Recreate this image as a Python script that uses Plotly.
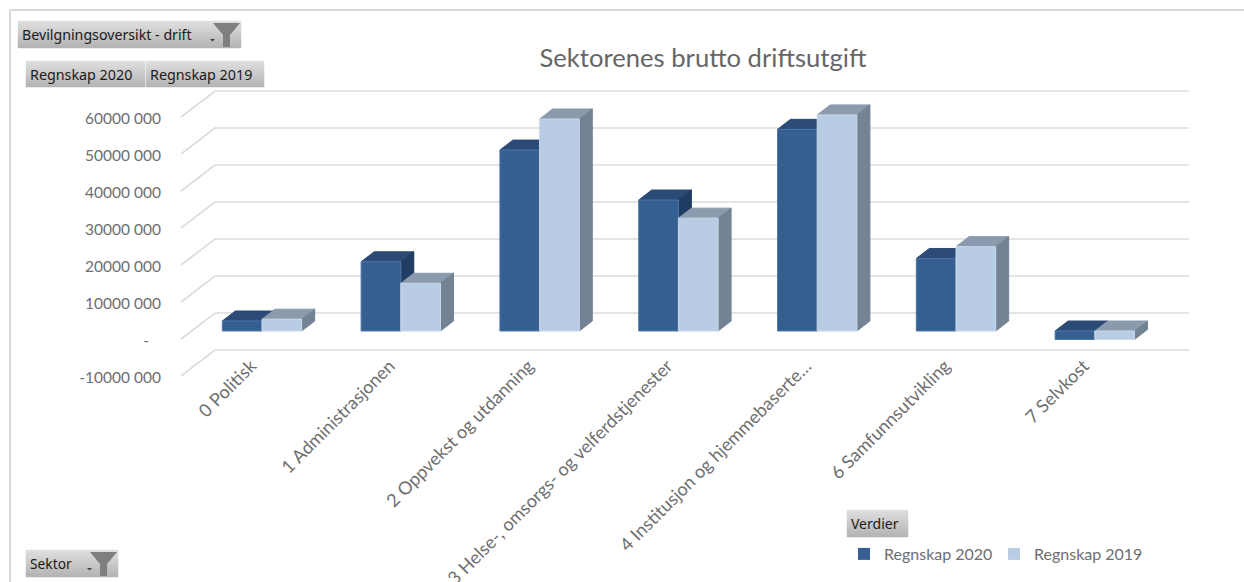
import plotly.graph_objects as go

W, H = 1244, 582

# ---- data ----
categories = ["0 Politisk", "1 Administrasjonen", "2 Oppvekst og utdanning",
              "3 Helse-, omsorgs- og velferdstjenester",
              "4 Institusjon og hjemmebaserte…", "6 Samfunnsutvikling", "7 Selvkost"]
regnskap_2020 = [2_700_000, 18_700_000, 48_900_000, 35_400_000, 54_500_000, 19_600_000, -2_300_000]
regnskap_2019 = [3_200_000, 12_900_000, 57_300_000, 30_500_000, 58_400_000, 22_800_000, -2_300_000]
grid_values = [-10_000_000, 0, 10_000_000, 20_000_000, 30_000_000, 40_000_000, 50_000_000, 60_000_000]
tick_labels = ["-10000 000", "-\u00a0\u00a0\u00a0", "10000 000", "20000 000", "30000 000",
               "40000 000", "50000 000", "60000 000"]
series_names = ["Regnskap 2020", "Regnskap 2019"]

# ---- projection of the pseudo-3D scene (category units / value units) ----
PX_PER_CAT = 138.8
PX_PER_VAL = 3.7e-6
CAT0_PX = 262.0          # pixel of category 0
ZERO_PX = 339.0          # pixel of value 0 on the front plane
BAR_W = 39.7 / PX_PER_CAT
BAR_DX = 13.0 / PX_PER_CAT
BAR_DY = 10.0 / PX_PER_VAL
BAR_FRONT_DY = 8.0 / PX_PER_VAL     # bars stand a bit behind the front plane
WALL_DX = 34.0 / PX_PER_CAT
WALL_DY = 26.0 / PX_PER_VAL
GRID_X0 = (181.0 - CAT0_PX) / PX_PER_CAT
GRID_X1 = (1189.0 - CAT0_PX) / PX_PER_CAT
LABEL_SHIFT = -11.0 / PX_PER_CAT
YLABEL_SHIFT = -1.5 / PX_PER_VAL

PLOT_L, PLOT_R, PLOT_T, PLOT_B = 162, 1210, 60, 400


def px(x):
    return x / W


def py(y):
    return 1 - y / H


# ---- gridlines (floor edge + back wall) ----
gx, gy = [], []
for v in grid_values:
    gx += [GRID_X0, GRID_X0 + WALL_DX, GRID_X1, None]
    gy += [v, v + WALL_DY, v + WALL_DY, None]

fig = go.Figure()
fig.add_trace(go.Scatter(x=gx, y=gy, mode="lines", line=dict(color="#dcdcdc", width=1.6),
                         hoverinfo="skip", showlegend=False))


def faces(values, offset):
    fx, fy, tx, ty, sx, sy = [], [], [], [], [], []
    for i, v in enumerate(values):
        x0 = i + offset * BAR_W
        x1 = x0 + BAR_W
        top = max(v, 0) + BAR_FRONT_DY
        bot = min(v, 0) + BAR_FRONT_DY
        fx += [x0, x1, x1, x0, x0, None]
        fy += [bot, bot, top, top, bot, None]
        tx += [x0, x1, x1 + BAR_DX, x0 + BAR_DX, x0, None]
        ty += [top, top, top + BAR_DY, top + BAR_DY, top, None]
        sx += [x1, x1 + BAR_DX, x1 + BAR_DX, x1, x1, None]
        sy += [bot, bot + BAR_DY, top + BAR_DY, top, bot, None]
    return (fx, fy), (tx, ty), (sx, sy)


styles = [
    dict(front="#355f91", line="#4f78a8", top="#2b4a75", side="#1f3d63"),
    dict(front="#b8cce4", line="#c9d8ea", top="#8c9aad", side="#748393"),
]
for values, offset, st in zip([regnskap_2020, regnskap_2019], [-1, 0], styles):
    f, t, s = faces(values, offset)
    for (xs, ys), col, lc in [(t, st["top"], st["top"]), (s, st["side"], st["side"]), (f, st["front"], st["line"])]:
        fig.add_trace(go.Scatter(x=xs, y=ys, mode="lines", fill="toself", fillcolor=col,
                                 line=dict(color=lc, width=1), hoverinfo="skip", showlegend=False))

# legend entries
for name, st in zip(series_names, styles):
    fig.add_trace(go.Bar(x=[None], y=[None], name=name, marker=dict(color=st["front"], line=dict(width=0))))

shapes = []
annotations = []


def button(x0, y0, x1, y1, label, font_size=14.3):
    n = y1 - y0
    for k in range(n):
        t = k / (n - 1)
        c = int(224 - t * 44)
        shapes.append(dict(type="rect", xref="paper", yref="paper", x0=px(x0), x1=px(x1),
                           y0=py(y0 + k), y1=py(y0 + k + 1), fillcolor=f"rgb({c},{c},{c})",
                           line=dict(color=f"rgb({c},{c},{c})", width=0.5), layer="above"))
    annotations.append(dict(text=label, xref="paper", yref="paper", x=px(x0 + 2), y=py((y0 + y1) / 2),
                            xanchor="left", yanchor="middle", showarrow=False,
                            font=dict(family="Noto Sans", size=font_size, color="#1a1a1a")))


def funnel(x0, y0):
    pts = [(x0, y0), (x0 + 27, y0), (x0 + 17, y0 + 12), (x0 + 17, y0 + 24), (x0 + 10, y0 + 24), (x0 + 10, y0 + 12)]
    path = "M " + " L ".join(f"{px(a)},{py(b)}" for a, b in pts) + " Z"
    shapes.append(dict(type="path", xref="paper", yref="paper", path=path, fillcolor="#7f7f7f",
                       line=dict(width=0), layer="above"))
    ax, ay = x0 - 3, y0 + 16
    path = f"M {px(ax)},{py(ay)} L {px(ax + 5)},{py(ay)} L {px(ax + 2.5)},{py(ay + 2.5)} Z"
    shapes.append(dict(type="path", xref="paper", yref="paper", path=path, fillcolor="#404040",
                       line=dict(width=0), layer="above"))


button(18, 21, 241, 48, "Bevilgningsoversikt - drift", 14.2)
funnel(213, 23)
button(26, 61, 145, 87, "Regnskap 2020")
button(146, 61, 264, 87, "Regnskap 2019")
button(26, 550, 118, 577, "Sektor", 13.8)
funnel(90, 552)
button(847, 510, 908, 537, "Verdier", 14)

# outer frame
shapes.append(dict(type="line", xref="paper", yref="paper", x0=px(10), x1=px(W), y0=py(10), y1=py(10),
                   line=dict(color="#d9d9d9", width=2)))
shapes.append(dict(type="line", xref="paper", yref="paper", x0=px(10), x1=px(10), y0=py(10), y1=py(H),
                   line=dict(color="#d9d9d9", width=2)))

fig.update_layout(
    width=W, height=H, margin=dict(l=0, r=0, t=0, b=0, autoexpand=False),
    paper_bgcolor="white", plot_bgcolor="rgba(0,0,0,0)",
    shapes=shapes, annotations=annotations,
    title=dict(text="Sektorenes brutto driftsutgift", x=px(703), xanchor="center", y=py(58), yanchor="middle",
               xref="paper", yref="paper", font=dict(family="Lato", size=25.6, color="#666666")),
    xaxis=dict(domain=[px(PLOT_L), px(PLOT_R)],
               range=[(PLOT_L - CAT0_PX) / PX_PER_CAT, (PLOT_R - CAT0_PX) / PX_PER_CAT],
               tickmode="array", tickvals=[i + LABEL_SHIFT for i in range(len(categories))], ticktext=categories,
               tickangle=-45, tickfont=dict(family="Lato", size=18, color="#6e6e6e"),
               anchor="free", position=py(351),
               showgrid=False, zeroline=False, showline=False, ticks="", automargin=False),
    yaxis=dict(domain=[py(PLOT_B), py(PLOT_T)],
               range=[(ZERO_PX - PLOT_B) / PX_PER_VAL, (ZERO_PX - PLOT_T) / PX_PER_VAL],
               tickmode="array", tickvals=[v + YLABEL_SHIFT for v in grid_values], ticktext=tick_labels,
               tickfont=dict(family="Lato", size=15.5, color="#6e6e6e"),
               showgrid=False, zeroline=False, showline=False, ticks="", automargin=False),
    legend=dict(orientation="h", x=px(844), y=py(554), xanchor="left", yanchor="middle",
                entrywidth=105, entrywidthmode="pixels",
                font=dict(family="Lato", size=16, color="#6e6e6e"), bgcolor="rgba(0,0,0,0)"),
    barmode="overlay",
)

fig.write_html("out.html", config={"displayModeBar": False},
               post_script="document.body.style.margin='0';document.body.style.overflow='hidden';")
